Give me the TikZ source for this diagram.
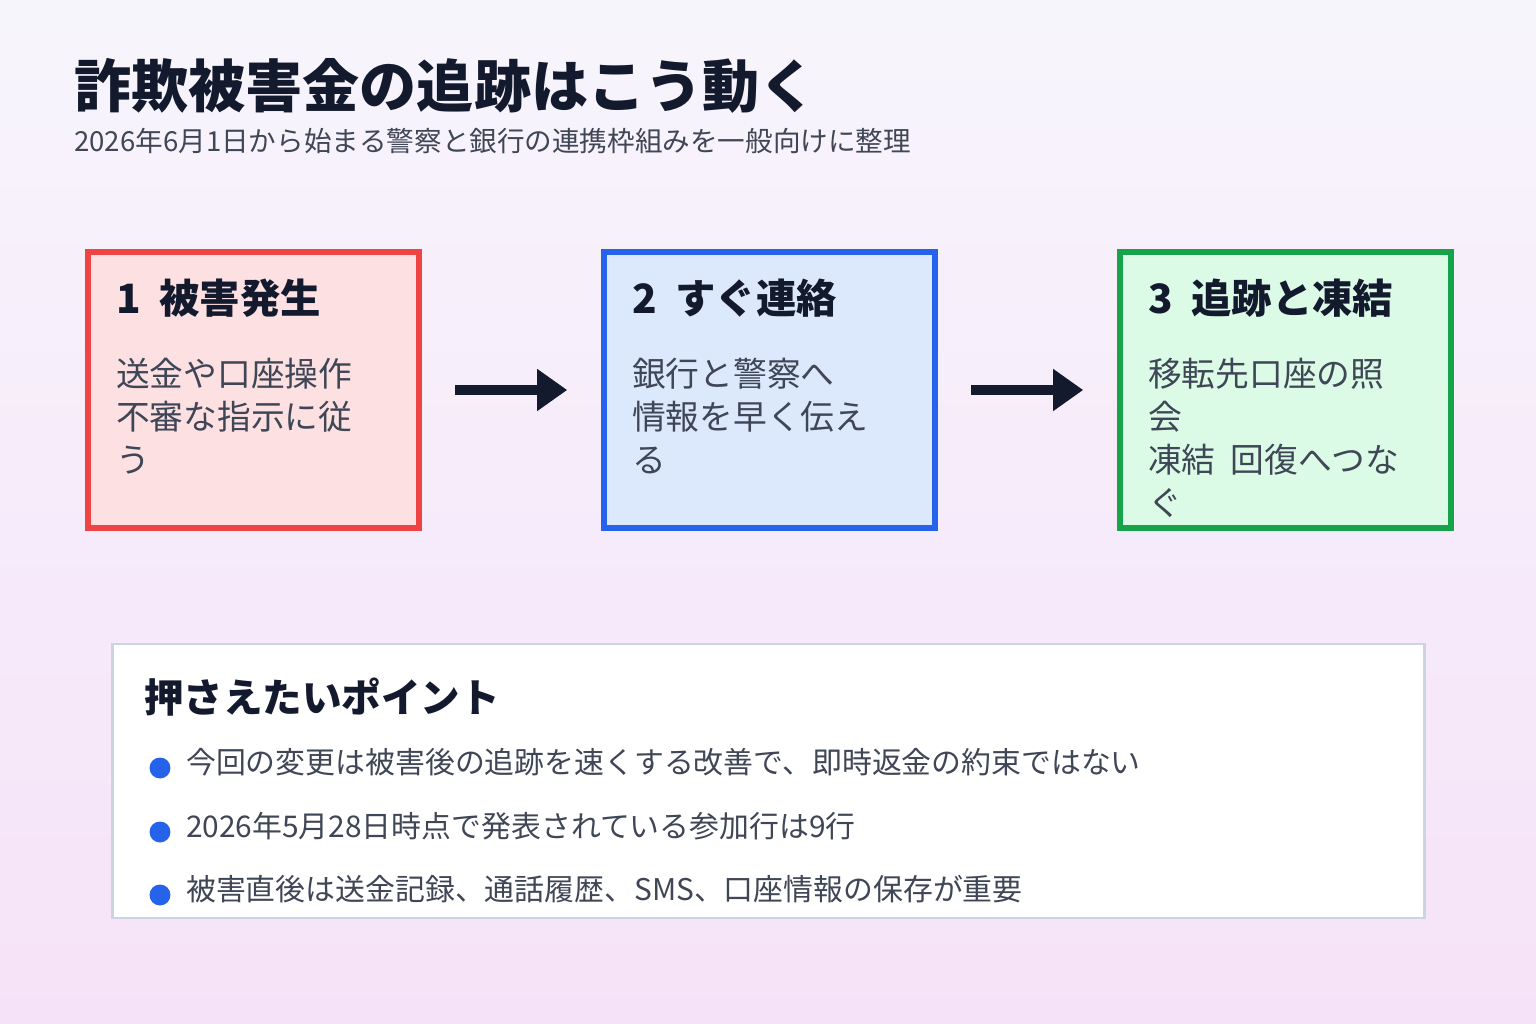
\documentclass[tikz,border=0pt]{standalone}
\usepackage{fontspec}
\setmainfont{Noto Sans CJK JP}
\usetikzlibrary{arrows.meta}
\usetikzlibrary{positioning}
\definecolor{inkdark}{HTML}{141A2E}
\definecolor{inkgray}{HTML}{3F4656}
\definecolor{redline}{HTML}{EF4444}
\definecolor{redfill}{HTML}{FDE1E2}
\definecolor{blueline}{HTML}{2563EB}
\definecolor{bluefill}{HTML}{DCE9FD}
\definecolor{greenline}{HTML}{16A34A}
\definecolor{greenfill}{HTML}{DCFBE6}
\definecolor{panelline}{HTML}{CBD5E1}
\tikzset{
  stepbox/.style={rectangle, line width=3.2pt, minimum width=6.62cm, minimum height=5.52cm},
  steptitle/.style={anchor=west, font=\fontsize{23}{27}\selectfont\bfseries, text=inkdark},
  steptext/.style={anchor=north west, align=left, font=\fontsize{19.2}{24.4}\selectfont, text=inkgray},
  flow/.style={line width=6pt, draw=inkdark, -{Triangle[length=0.6cm,width=0.8cm]}, shorten <=0.66cm, shorten >=0.68cm},
  bullettext/.style={anchor=west, font=\fontsize{17}{20}\selectfont, text=inkgray},
  dot/.style={circle, fill=blueline, minimum size=0.42cm, inner sep=0pt}
}
\begin{document}
\begin{tikzpicture}[x=0.02cm, y=-0.02cm]
  \shade[top color={rgb,255:red,247;green,245;blue,252}, bottom color={rgb,255:red,246;green,226;blue,248}] (0,0) rectangle (1536,1024);
  \useasboundingbox (0,0) rectangle (1536,1024);
  % title
  \node (title) [anchor=west, inner sep=0pt, font=\fontsize{32.5}{38}\selectfont\bfseries, text=inkdark] at (74,86) {詐欺被害金の追跡はこう動く};
  \node (sub) [anchor=west, inner sep=0pt, font=\fontsize{15.7}{18}\selectfont, text=inkgray] at (74,141) {2026年6月1日から始まる警察と銀行の連携枠組みを一般向けに整理};
  % three steps
  \node (s1) [stepbox, draw=redline, fill=redfill] at (253.5,390) {};
  \node (s2) [stepbox, draw=blueline, fill=bluefill] at (769.5,390) {};
  \node (s3) [stepbox, draw=greenline, fill=greenfill] at (1285.5,390) {};
  \node (h1) [steptitle] at (110,298) {1\ \ 被害発生};
  \node (h2) [steptitle] at (626,298) {2\ \ すぐ連絡};
  \node (h3) [steptitle] at (1142,298) {3\ \ 追跡と凍結};
  \node (t1) [steptext] at (110,352) {送金や口座操作\\不審な指示に従\\う};
  \node (t2) [steptext] at (626,352) {銀行と警察へ\\情報を早く伝え\\る};
  \node (t3) [steptext] at (1142,352) {移転先口座の照\\会\\凍結\ \ 回復へつな\\ぐ};
  \draw [flow] (s1.east) -- (s2.west);
  \draw [flow] (s2.east) -- (s3.west);
  % key points
  \node (panel) [rectangle, draw=panelline, line width=1.6pt, fill=white, minimum width=26.26cm, minimum height=5.48cm] at (768.5,781) {};
  \node (ph) [anchor=west, font=\fontsize{22.5}{26}\selectfont\bfseries, text=inkdark] at (138,697) {押さえたいポイント};
  \node (d1) [dot] at (160,768) {};
  \node (d2) [dot] at (160,832) {};
  \node (d3) [dot] at (160,895) {};
  \node (b1) [bullettext] at (180,762) {今回の変更は被害後の追跡を速くする改善で、即時返金の約束ではない};
  \node (b2) [bullettext] at (180,826) {2026年5月28日時点で発表されている参加行は9行};
  \node (b3) [bullettext] at (180,889) {被害直後は送金記録、通話履歴、SMS、口座情報の保存が重要};
\end{tikzpicture}
\end{document}
